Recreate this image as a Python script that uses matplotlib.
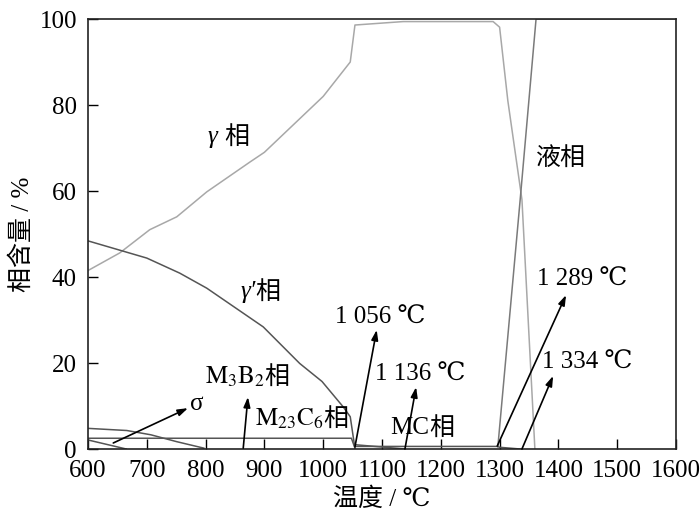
import matplotlib
matplotlib.use("Agg")
import matplotlib.pyplot as plt

plt.rcParams['font.family'] = ['Liberation Serif', 'DejaVu Serif', 'Noto Sans CJK SC', 'DejaVu Sans']
plt.rcParams['mathtext.fontset'] = 'stix'

# --- data ---
gamma_T = [600, 654, 705, 751, 802, 875, 900, 1000, 1046, 1054, 1136, 1289, 1300, 1314, 1338, 1360]
gamma_v = [41.5, 45.6, 51.0, 54.0, 59.8, 66.7, 69.0, 82.0, 90.0, 98.6, 99.4, 99.4, 98.1, 81.0, 58.0, 0.0]

gp_T = [600, 700, 756, 802, 898, 960, 998, 1034, 1046, 1051, 1054]
gp_v = [48.4, 44.4, 40.9, 37.4, 28.4, 19.9, 15.7, 9.8, 7.5, 2.9, 0.2]

liq_T = [1297, 1335, 1362, 1600]
liq_v = [0.5, 58.0, 100.0, 100.0]

m3b2_T = [600, 666, 707, 751, 797]
m3b2_v = [4.8, 4.3, 3.3, 1.7, 0.2]

sigma_T = [600, 665]
sigma_v = [2.1, 0.0]

m23_T = [600, 1048, 1054]
m23_v = [2.5, 2.5, 0.2]

x_T = [1054, 1139]
x_v = [1.0, 0.0]

mc_T = [1054, 1297, 1300, 1335]
mc_v = [0.6, 0.6, 0.4, 0.0]

xticks = list(range(600, 1601, 100))
yticks = list(range(0, 101, 20))

fig = plt.figure(figsize=(7.0, 5.22), dpi=100)
ax = fig.add_axes([88/700, 1-449/522, (676-88)/700, (449-19)/522])

ax.plot(gamma_T, gamma_v, color='#a8a8a8', lw=1.1)
ax.plot(liq_T, liq_v, color='#7a7a7a', lw=1.1)
ax.plot(gp_T, gp_v, color='#555555', lw=1.1)
ax.plot(m3b2_T, m3b2_v, color='#555555', lw=1.1)
ax.plot(sigma_T, sigma_v, color='#555555', lw=1.1)
ax.plot(m23_T, m23_v, color='#555555', lw=1.1)
ax.plot(x_T, x_v, color='#555555', lw=1.1)
ax.plot(mc_T, mc_v, color='#555555', lw=1.1)

ax.set_xlim(600, 1600)
ax.set_ylim(0, 100)
ax.set_xticks(xticks)
ax.set_yticks(yticks)
ax.tick_params(direction='in', length=7, width=1, labelsize=18,
               top=False, right=False)
ax.tick_params(axis='x', pad=8)
ax.tick_params(axis='y', pad=8)
for s in ax.spines.values():
    s.set_linewidth(1.2)
    s.set_color('#222222')

ax.set_xlabel('温度 / ℃', fontsize=18, labelpad=4)
ax.set_ylabel('相含量 / %', fontsize=18, labelpad=4)

cjk = ['Noto Sans CJK SC', 'DejaVu Sans']

def pair(x, y, left, right, lstyle='normal'):
    kw = dict(fontsize=18, va='center')
    ax.text(x, y, left, ha='right', style=lstyle,
            family=['Liberation Serif', 'DejaVu Serif'], **kw)
    ax.text(x, y, right, ha='left', family=cjk, **kw)

pair(832, 72.5, 'γ ', '相', lstyle='italic')
pair(885, 36.5, 'γ′', '相', lstyle='italic')
ax.text(1404, 67.7, '液相', fontsize=18, ha='center', va='center', family=cjk)
pair(900, 16.7, r'$\mathrm{M}_3\mathrm{B}_2$', '相')
pair(1000, 7.0, r'$\mathrm{M}_{23}\mathrm{C}_6$', '相')
pair(1180, 5.0, 'MC', '相')

ax.text(785, 10.5, 'σ', fontsize=18, ha='center', va='center')
ax.text(1097, 30.5, '1 056 ℃', fontsize=18, ha='center', va='center')
ax.text(1165, 17.2, '1 136 ℃', fontsize=18, ha='center', va='center')
ax.text(1440, 39.3, '1 289 ℃', fontsize=18, ha='center', va='center')
ax.text(1449, 20.0, '1 334 ℃', fontsize=18, ha='center', va='center')

arrows = [((643, 1.4), (770, 9.5)),
          ((864, 0.2), (872, 12.1)),
          ((1054, 0.5), (1091, 27.7)),
          ((1139, 0.0), (1158, 14.4)),
          ((1296, 0.7), (1413, 35.8)),
          ((1338, 0.0), (1391, 17.0))]
for (x0, y0), (x1, y1) in arrows:
    ax.annotate('', xy=(x1, y1), xytext=(x0, y0),
                arrowprops=dict(arrowstyle='-|>,head_length=0.6,head_width=0.2',
                                color='black', lw=1.2, shrinkA=0, shrinkB=0))

fig.savefig('out.png', dpi=100)
